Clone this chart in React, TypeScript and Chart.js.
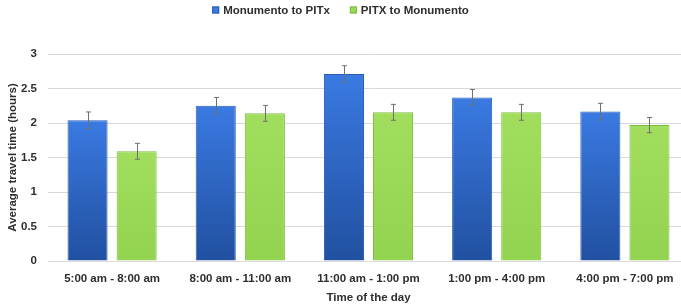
import React, { useEffect, useRef } from "react";
import { Chart, registerables } from "chart.js";

Chart.register(...registerables);

const categories = [
  "5:00 am - 8:00 am",
  "8:00 am - 11:00 am",
  "11:00 am - 1:00 pm",
  "1:00 pm - 4:00 pm",
  "4:00 pm - 7:00 pm",
];
const monumentoToPitx = [2.04, 2.25, 2.71, 2.37, 2.165];
const monumentoToPitxErr = [0.12, 0.12, 0.12, 0.115, 0.12];
const pitxToMonumento = [1.59, 2.14, 2.155, 2.155, 1.97];
const pitxToMonumentoErr = [0.115, 0.115, 0.115, 0.115, 0.11];
const yTicks = [0, 0.5, 1, 1.5, 2, 2.5, 3];

const FONT = "'Liberation Sans', Arial, sans-serif";
const FS = 11.5;
const TEXT = "#2e2e2e";

function barGradient(ctx: any, top: string, bottom: string) {
  const chart = ctx.chart;
  const y = chart.scales?.y;
  if (!y || ctx.parsed == null || !chart.chartArea) return top;
  const yTop = y.getPixelForValue(ctx.parsed.y);
  const yBot = y.getPixelForValue(0);
  if (!isFinite(yTop) || !isFinite(yBot)) return top;
  const g = chart.ctx.createLinearGradient(0, yTop, 0, yBot);
  g.addColorStop(0, top);
  g.addColorStop(1, bottom);
  return g;
}

const errorBarPlugin = {
  id: "errorBars",
  afterDatasetsDraw(chart: any) {
    const c = chart.ctx;
    const y = chart.scales.y;
    const errs = [monumentoToPitxErr, pitxToMonumentoErr];
    chart.data.datasets.forEach((ds: any, di: number) => {
      const meta = chart.getDatasetMeta(di);
      meta.data.forEach((bar: any, i: number) => {
        const v = ds.data[i];
        const e = errs[di][i];
        const x = Math.round(bar.x) + 0.5;
        const y1 = y.getPixelForValue(v + e);
        const y2 = y.getPixelForValue(v - e);
        c.save();
        c.strokeStyle = "#6f6f6f";
        c.lineWidth = 1;
        c.beginPath();
        c.moveTo(x, y1);
        c.lineTo(x, y2);
        c.moveTo(x - 2.5, y1);
        c.lineTo(x + 2.5, y1);
        c.moveTo(x - 2.5, y2);
        c.lineTo(x + 2.5, y2);
        c.stroke();
        c.restore();
      });
    });
  },
};

const legendColors = [
  { fill: "#3a7ae2", stroke: "#2a5bb5" },
  { fill: "#9ad858", stroke: "#7dbb3e" },
];

const customLegendPlugin = {
  id: "customLegend",
  afterDraw(chart: any) {
    const c = chart.ctx;
    const labels = chart.data.datasets.map((d: any) => d.label);
    c.save();
    c.font = `bold ${FS}px ${FONT}`;
    c.textBaseline = "middle";
    c.textAlign = "left";
    const box = 7;
    const boxGap = 4;
    const itemGap = 20;
    const widths = labels.map((t: string) => c.measureText(t).width);
    const total =
      widths.reduce((a: number, w: number) => a + box + boxGap + w, 0) +
      itemGap * (labels.length - 1);
    let x = 340.5 - total / 2;
    const cy = 10;
    labels.forEach((t: string, i: number) => {
      c.fillStyle = legendColors[i].fill;
      c.fillRect(x, cy - box / 2, box, box);
      c.strokeStyle = legendColors[i].stroke;
      c.lineWidth = 1;
      c.strokeRect(x + 0.5, cy - box / 2 + 0.5, box - 1, box - 1);
      x += box + boxGap;
      c.fillStyle = TEXT;
      c.fillText(t, x, cy + 0.5);
      x += widths[i] + itemGap;
    });
    c.restore();
  },
};

export default function App() {
  const ref = useRef<HTMLCanvasElement | null>(null);

  useEffect(() => {
    document.body.style.margin = "0";
    document.body.style.overflow = "hidden";
    const canvas = ref.current;
    if (!canvas) return;
    const chart = new Chart(canvas, {
      type: "bar",
      data: {
        labels: categories,
        datasets: [
          {
            label: "Monumento to PITx",
            data: monumentoToPitx,
            backgroundColor: (ctx: any) => barGradient(ctx, "#3a7ae2", "#2150a0"),
            borderColor: "#2a5bb5",
            borderWidth: 1,
            categoryPercentage: 0.766,
            barPercentage: 0.816,
          },
          {
            label: "PITX to Monumento",
            data: pitxToMonumento,
            backgroundColor: (ctx: any) => barGradient(ctx, "#a2de5e", "#92d350"),
            borderColor: "#7dbb3e",
            borderWidth: 1,
            categoryPercentage: 0.766,
            barPercentage: 0.816,
          },
        ],
      },
      options: {
        animation: false,
        responsive: false,
        maintainAspectRatio: false,
        layout: { padding: { top: 54, right: 1, left: 0, bottom: 0 } },
        plugins: {
          legend: { display: false },
          tooltip: { enabled: false },
        },
        scales: {
          x: {
            grid: { display: false },
            border: { display: false },
            ticks: {
              color: TEXT,
              font: { family: FONT, size: FS, weight: "bold" },
              padding: 3,
              maxRotation: 0,
            },
            title: {
              display: true,
              text: "Time of the day",
              color: TEXT,
              font: { family: FONT, size: FS, weight: "bold" },
              padding: { top: 2, bottom: 0 },
            },
            afterFit: (s: any) => {
              s.height = 44;
            },
          },
          y: {
            min: 0,
            max: 3,
            afterBuildTicks: (s: any) => {
              s.ticks = yTicks.map((v) => ({ value: v }));
            },
            grid: { color: "#d9d9d9", lineWidth: 1, drawTicks: false },
            border: { display: false },
            ticks: {
              color: TEXT,
              font: { family: FONT, size: FS, weight: "bold" },
              padding: 11,
              callback: (v: any) => String(v),
            },
            title: {
              display: true,
              text: "Average travel time (hours)",
              color: TEXT,
              font: { family: FONT, size: FS, weight: "bold" },
              padding: { top: 6, bottom: 4 },
            },
            afterFit: (s: any) => {
              s.width = 48;
            },
          },
        },
      },
      plugins: [errorBarPlugin, customLegendPlugin],
    });
    return () => chart.destroy();
  }, []);

  return (
    <div style={{ position: "fixed", left: 0, top: 0, width: 681, height: 305, overflow: "hidden" }}>
      <canvas ref={ref} width={690} height={305} style={{ width: 690, height: 305, display: "block" }} />
    </div>
  );
}
